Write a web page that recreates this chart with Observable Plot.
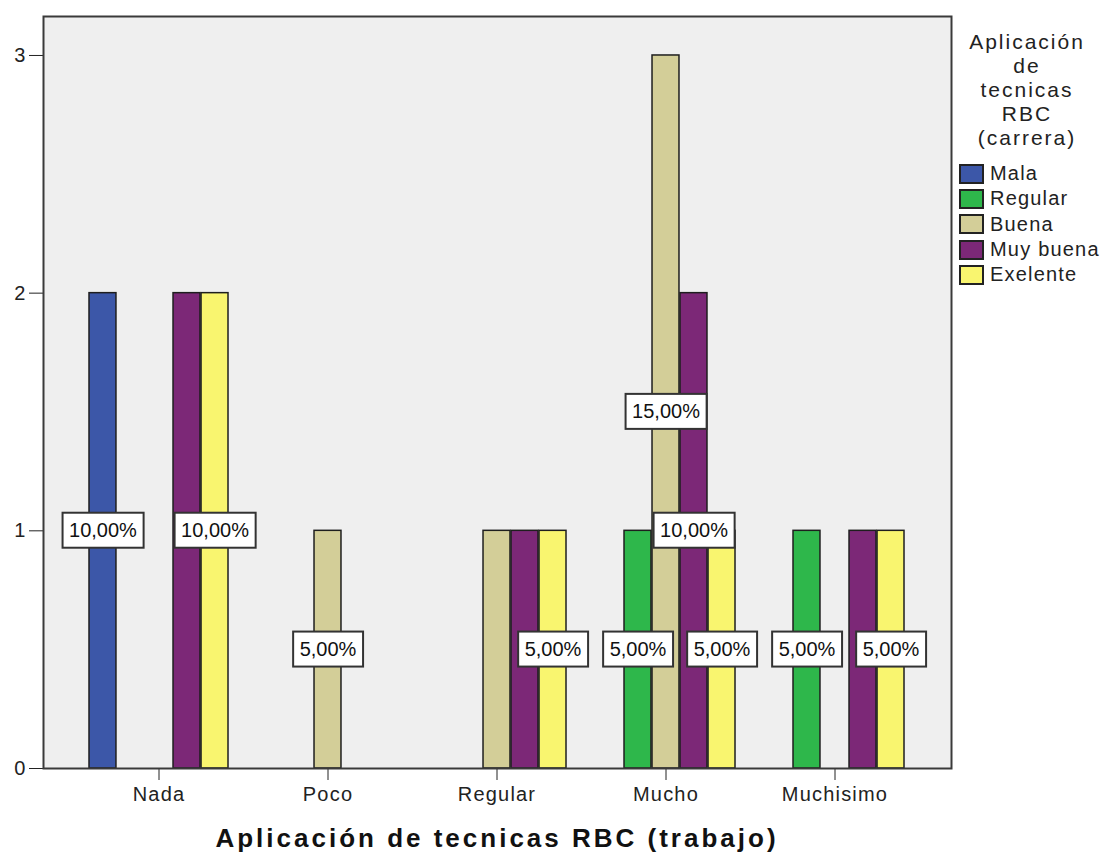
<!DOCTYPE html>
<html>
<head>
<meta charset="utf-8">
<script src="https://cdn.jsdelivr.net/npm/d3@7"></script>
<script src="https://cdn.jsdelivr.net/npm/@observablehq/plot@0.6"></script>
<style>
  body { margin: 0; background: #fff; font-family: "Liberation Sans", Arial, sans-serif; color: #222; }
  #wrap { position: relative; width: 1107px; height: 852px; }
  #chart svg text { letter-spacing: 1.2px; }
  #chart svg g[aria-label="text"] text { letter-spacing: 0; }
  #caption { position: absolute; left: 43px; width: 908px; top: 822px; text-align: center;
    font-weight: bold; font-size: 26px; letter-spacing: 3px; line-height: 32px; color: #111; }
  #legend { position: absolute; left: 952px; top: 30px; width: 150px; }
  #legend .ttl { text-align: center; font-size: 21px; line-height: 24px; letter-spacing: 2px; color: #222; }
  #legend .items { margin-top: 11px; }
  #legend .item { display: flex; align-items: center; height: 25.3px; font-size: 20px; letter-spacing: 1.2px; }
  #legend .sw { width: 21px; height: 16px; border: 2px solid #222; margin-left: 7px; margin-right: 6px; box-sizing: content-box; }
</style>
</head>
<body>
<div id="wrap">
  <div id="chart"></div>
  <div id="legend"></div>
  <div id="caption"></div>
</div>
<script>
const categories = ["Nada", "Poco", "Regular", "Mucho", "Muchisimo"];
const series = ["Mala", "Regular", "Buena", "Muy buena", "Exelente"];
const colors = ["#3c57a8", "#2eb74b", "#d3ce98", "#7c2877", "#f9f56f"];
// counts per category (Nada, Poco, Regular, Mucho, Muchisimo)
const mala     = [2, 0, 0, 0, 0];
const regular  = [0, 0, 0, 1, 1];
const buena    = [0, 1, 1, 3, 0];
const muyBuena = [2, 0, 1, 2, 1];
const exelente = [2, 0, 1, 1, 1];
const yTicks = [0, 1, 2, 3];
const xTitle = "Aplicación de tecnicas RBC (trabajo)";
const legendTitle = ["Aplicación", "de", "tecnicas", "RBC", "(carrera)"];

const seriesValues = [mala, regular, buena, muyBuena, exelente];
const data = [];
categories.forEach((c, i) => series.forEach((s, j) => data.push({cat: c, ser: s, si: j, count: seriesValues[j][i]})));
const total = d3.sum(data, d => d.count);
const bars = data.filter(d => d.count > 0);

// label placement: later labels drawn on top, overlapping ones hidden
const labels = [];
categories.forEach(c => {
  const kept = [];
  bars.filter(d => d.cat === c).slice().reverse().forEach(d => {
    const clash = kept.some(k => k.count === d.count && Math.abs(k.si - d.si) < 3);
    if (!clash) kept.push(d);
  });
  labels.push(...kept.reverse());
});
const pctFmt = d => (d.count / total * 100).toFixed(2).replace(".", ",") + "%";

const W = 1107, H = 812, mL = 43, mR = 156, mT = 16, mB = 44;
const padIn = 0.175, padOut = 0.262;
const band = d3.scaleBand(categories, [mL, W - mR]).paddingInner(padIn).paddingOuter(padOut);
const slot = band.bandwidth() / series.length;

const plot = Plot.plot({
  width: W,
  height: H,
  marginLeft: mL,
  marginRight: mR,
  marginTop: mT,
  marginBottom: mB,
  style: {fontFamily: '"Liberation Sans", Arial, sans-serif', fontSize: "20px", color: "#222", background: "transparent"},
  x: {domain: categories, paddingInner: padIn, paddingOuter: padOut, label: null, tickSize: 12, tickPadding: 6},
  y: {domain: [0, 3.164], ticks: yTicks, tickSize: 14, tickPadding: 3, label: null, tickFormat: d3.format("d")},
  color: {domain: series, range: colors},
  marks: [
    Plot.frame({fill: "#efefef"}),
    ...series.map((s, si) => Plot.barY(bars.filter(d => d.si === si), {
      x: "cat", y: "count", fill: "ser", stroke: "#1e1e1e", strokeWidth: 1.5,
      insetLeft: si * slot, insetRight: (series.length - 1 - si) * slot
    })),
    ...series.map((s, si) => Plot.text(labels.filter(d => d.si === si), {
      x: "cat", y: d => d.count / 2, text: pctFmt, fontSize: 20, fill: "#111",
      dx: (si - (series.length - 1) / 2) * slot
    })),
    Plot.frame({stroke: "#3a3a3a", strokeWidth: 2})
  ]
});
document.getElementById("chart").appendChild(plot);

// white boxes behind the percentage labels
plot.querySelectorAll('g[aria-label="text"] text').forEach(t => {
  const b = t.getBBox();
  const r = document.createElementNS("http://www.w3.org/2000/svg", "rect");
  const cy = b.y + b.height / 2;
  r.setAttribute("x", b.x - 6.5);
  r.setAttribute("width", b.width + 13);
  r.setAttribute("y", cy - 17.5);
  r.setAttribute("height", 35);
  r.setAttribute("fill", "#fff");
  r.setAttribute("stroke", "#333");
  r.setAttribute("stroke-width", 2);
  if (t.getAttribute("transform")) r.setAttribute("transform", t.getAttribute("transform"));
  t.parentNode.insertBefore(r, t);
});

document.getElementById("caption").textContent = xTitle;
const lg = document.getElementById("legend");
const ttl = document.createElement("div");
ttl.className = "ttl";
ttl.innerHTML = legendTitle.join("<br>");
lg.appendChild(ttl);
const items = document.createElement("div");
items.className = "items";
series.forEach((s, i) => {
  const it = document.createElement("div");
  it.className = "item";
  const sw = document.createElement("span");
  sw.className = "sw";
  sw.style.background = colors[i];
  const tx = document.createElement("span");
  tx.textContent = s;
  it.appendChild(sw); it.appendChild(tx);
  items.appendChild(it);
});
lg.appendChild(items);
</script>
</body>
</html>
